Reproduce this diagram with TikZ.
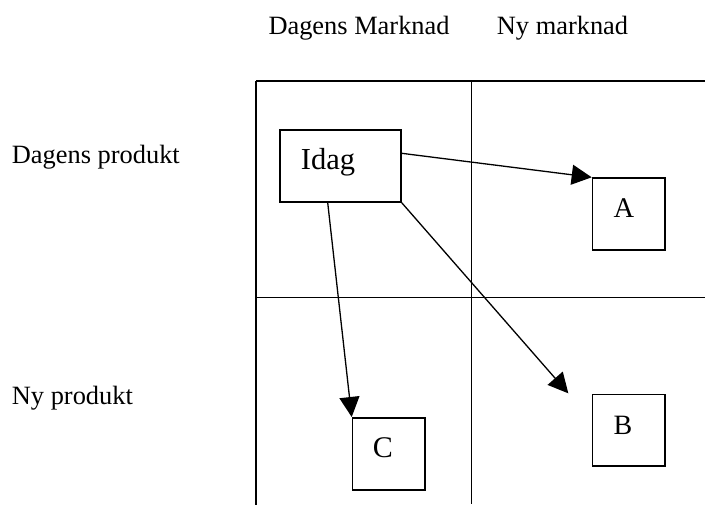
\documentclass[tikz,border=0pt]{standalone}
\usepackage{fontspec}
\setmainfont{Liberation Serif}
\usetikzlibrary{arrows.meta,calc}
\begin{document}
\begin{tikzpicture}[x=1pt,y=-1pt,
  gridline/.style={line width=1.7pt},
  box/.style={draw,line width=1.7pt,inner sep=0pt,anchor=north west},
  txt/.style={anchor=base west,inner sep=0pt,font=\fontsize{26.4}{30}\selectfont},
  arr/.style={line width=1.3pt,-{Triangle[length=20pt,width=20pt]}}]
\useasboundingbox (0,0) rectangle (705,505);
% grid
\draw[gridline] (256,81) -- (256,505);
\draw[gridline] (471.5,81) -- (471.5,504);
\draw[gridline] (256,81) -- (705,81);
\draw[gridline] (256,297.5) -- (705,297.5);
% headings
\node[txt] (hm1) at (268.3,35) {Dagens Marknad};
\node[txt] (hm2) at (496.7,35) {Ny marknad};
\node[txt] (hp1) at (11.7,164) {Dagens produkt};
\node[txt] (hp2) at (11.7,404) {Ny produkt};
% boxes
\node[box,minimum width=120.7pt,minimum height=71.7pt] (idag) at (279.3,129.3) {};
\node[box,minimum width=72.6pt,minimum height=72pt] (A) at (591.7,177.3) {};
\node[box,minimum width=72.6pt,minimum height=71.6pt] (B) at (591.7,393.7) {};
\node[box,minimum width=72.3pt,minimum height=72.3pt] (C) at (351.7,417) {};
\node[txt,font=\fontsize{30.5}{34}\selectfont] (tidag) at (300.7,170) {Idag};
\node[txt,font=\fontsize{28.5}{32}\selectfont] (tA) at (613.3,217.7) {A};
\node[txt,font=\fontsize{28}{32}\selectfont] (tB) at (613.3,434) {B};
\node[txt,font=\fontsize{30}{34}\selectfont] (tC) at (372.7,457.7) {C};
% arrows
\coordinate (bend) at (568.3,393.3);
\draw[arr] ($(idag.north east)+(0,24)$) -- (A.north west);
\draw[arr] ($(idag.south west)+(48.4,0)$) -- (C.north west);
\draw[arr] (idag.south east) -- (bend);
\end{tikzpicture}
\end{document}
